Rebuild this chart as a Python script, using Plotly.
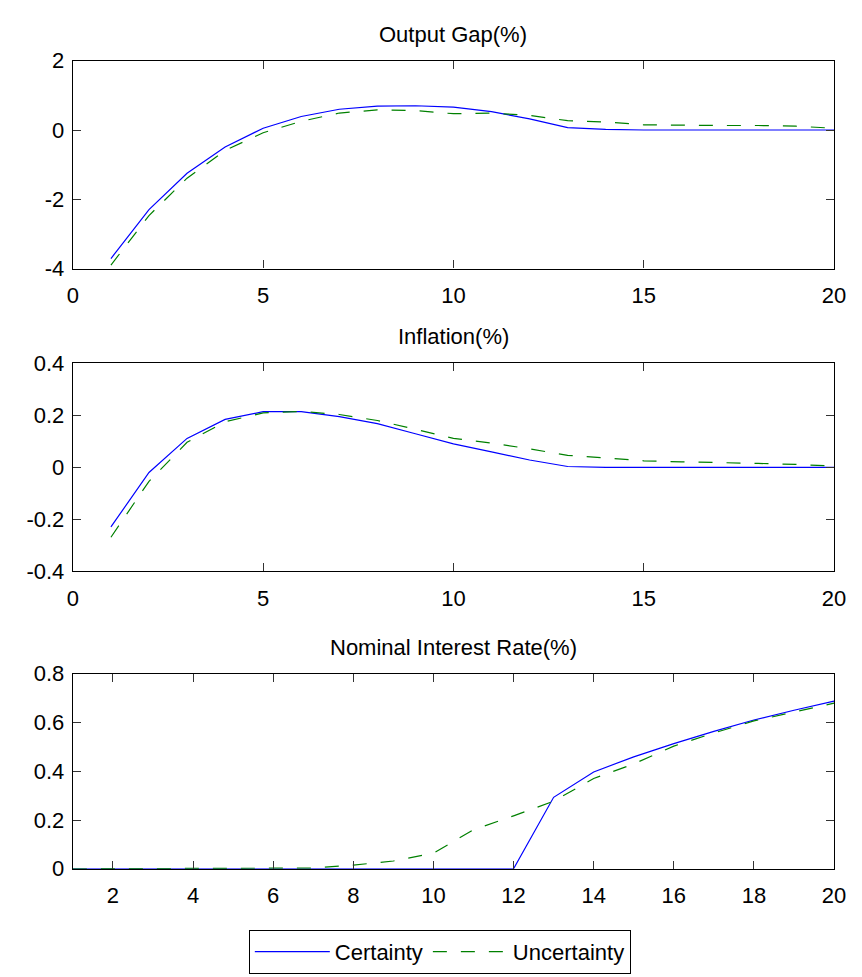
import plotly.graph_objects as go
from plotly.subplots import make_subplots

# Impulse responses over 20 periods
periods = list(range(1, 21))

output_gap_certainty = [-3.71, -2.30, -1.25, -0.49, 0.05, 0.39, 0.60, 0.69, 0.70, 0.66,
                        0.53, 0.32, 0.07, 0.02, 0.0, 0.0, 0.0, 0.0, 0.0, 0.0]
output_gap_uncertainty = [-3.90, -2.47, -1.39, -0.59, -0.08, 0.25, 0.49, 0.58, 0.56, 0.47,
                          0.49, 0.42, 0.27, 0.23, 0.15, 0.13, 0.13, 0.13, 0.11, 0.05]

inflation_certainty = [-0.229, -0.020, 0.111, 0.184, 0.214, 0.214, 0.195, 0.168, 0.129, 0.090,
                       0.059, 0.028, 0.003, 0.0, 0.0, 0.0, 0.0, 0.0, 0.0, 0.0]
inflation_uncertainty = [-0.269, -0.054, 0.096, 0.175, 0.209, 0.215, 0.203, 0.180, 0.146, 0.111,
                         0.093, 0.071, 0.046, 0.036, 0.025, 0.021, 0.019, 0.015, 0.011, 0.005]

interest_certainty = [0.0, 0.0, 0.0, 0.0, 0.0, 0.0, 0.0, 0.0, 0.0, 0.0,
                      0.0, 0.0, 0.293, 0.397, 0.459, 0.513, 0.563, 0.610, 0.650, 0.687]
interest_uncertainty = [0.0, 0.0, 0.0, 0.0, 0.0, 0.0, 0.003, 0.015, 0.032, 0.064,
                        0.160, 0.217, 0.277, 0.370, 0.430, 0.503, 0.557, 0.606, 0.643, 0.679]

panel_titles = ["Output Gap(%)", "Inflation(%)", "Nominal Interest Rate(%)"]
series_names = ["Certainty", "Uncertainty"]

# Axis ticks
x_ticks_top = [0, 5, 10, 15, 20]
x_ticks_bottom = [2, 4, 6, 8, 10, 12, 14, 16, 18, 20]
y_ticks_gap = [-4, -2, 0, 2]
y_labels_gap = ["-4", "-2", "0", "2"]
y_ticks_infl = [-0.4, -0.2, 0, 0.2, 0.4]
y_labels_infl = ["-0.4", "-0.2", "0", "0.2", "0.4"]
y_ticks_rate = [0, 0.2, 0.4, 0.6, 0.8]
y_labels_rate = ["0", "0.2", "0.4", "0.6", "0.8"]

W, H = 862, 977
FONT = "Liberation Sans, Arial, Helvetica, sans-serif"
FS = 22
BLUE = "#0000ff"
GREEN = "#008000"

fig = make_subplots(rows=3, cols=1)

panels = [
    (output_gap_certainty, output_gap_uncertainty),
    (inflation_certainty, inflation_uncertainty),
    (interest_certainty, interest_uncertainty),
]
for i, (cert, unc) in enumerate(panels, start=1):
    fig.add_trace(go.Scatter(x=periods, y=cert, mode="lines", name=series_names[0],
                             line=dict(color=BLUE, width=1.2), showlegend=(i == 1)),
                  row=i, col=1)
    fig.add_trace(go.Scatter(x=periods, y=unc, mode="lines", name=series_names[1],
                             line=dict(color=GREEN, width=1.2, dash="14px,14px"),
                             showlegend=(i == 1)),
                  row=i, col=1)

# Panel boxes in pixel positions -> paper fractions
left_px, right_px = 68.3, 845.7
boxes = [(50, 263.3), (360.5, 574), (679, 879.3)]
x_dom = [left_px / W, right_px / W]

axis_common = dict(
    showline=True, linecolor="black", linewidth=1.2, mirror="allticks",
    ticks="inside", ticklen=8, tickcolor="#333333", tickwidth=1,
    showgrid=False, zeroline=False,
    tickfont=dict(family=FONT, size=FS, color="black"),
)

x_settings = [
    dict(range=[0, 20], tickvals=x_ticks_top),
    dict(range=[0, 20], tickvals=x_ticks_top),
    dict(range=[1, 20], tickvals=x_ticks_bottom),
]
y_settings = [
    dict(range=[-4, 2], tickvals=y_ticks_gap, ticktext=y_labels_gap),
    dict(range=[-0.4, 0.4], tickvals=y_ticks_infl, ticktext=y_labels_infl),
    dict(range=[0, 0.8], tickvals=y_ticks_rate, ticktext=y_labels_rate),
]

for i, ((top, bot), xs, ys) in enumerate(zip(boxes, x_settings, y_settings), start=1):
    xname = "xaxis" if i == 1 else f"xaxis{i}"
    yname = "yaxis" if i == 1 else f"yaxis{i}"
    fig.layout[xname].update(domain=x_dom, ticklabelstandoff=7, **xs, **axis_common)
    fig.layout[yname].update(domain=[1 - bot / H, 1 - top / H], ticklabelstandoff=3,
                             **ys, **axis_common)
    fig.add_annotation(
        text=panel_titles[i - 1], xref="paper", yref="paper",
        x=(left_px + right_px) / 2 / W, y=1 - (top - 27) / H,
        xanchor="center", yanchor="middle", showarrow=False,
        font=dict(family=FONT, size=FS, color="black"),
    )

fig.update_layout(
    width=W, height=H,
    margin=dict(l=0, r=0, t=0, b=0),
    paper_bgcolor="white", plot_bgcolor="white",
    showlegend=True,
    legend=dict(
        orientation="h", x=248 / W, y=1 - 942 / H, xanchor="left", yanchor="top",
        bordercolor="black", borderwidth=1, bgcolor="white",
        font=dict(family=FONT, size=FS, color="black"),
        itemwidth=75, tracegroupgap=0,
    ),
)

fig.write_html("out.html")
